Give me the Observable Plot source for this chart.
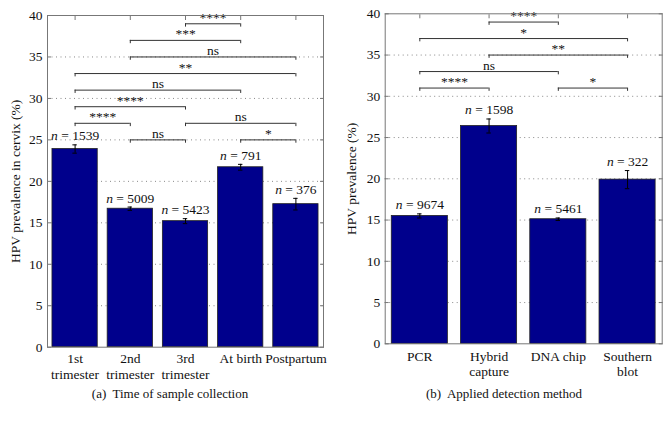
<!DOCTYPE html>
<html><head><meta charset="utf-8">
<script src="https://cdn.jsdelivr.net/npm/d3@7"></script>
<script src="https://cdn.jsdelivr.net/npm/@observablehq/plot@0.6"></script>
<style>
body{margin:0;background:#fff;font-family:"Liberation Serif",serif;}
#wrap{position:relative;width:669px;height:422px;overflow:hidden;background:#fff}
#pa{position:absolute;left:0;top:0}
#pb{position:absolute;left:334px;top:0}
.cap{position:absolute;top:386px;width:340px;text-align:center;font-size:13px;white-space:pre;line-height:15px;color:#111}
</style></head><body>
<div id="wrap"><div id="pa"></div><div id="pb"></div>
<div class="cap" style="left:0">(a)  Time of sample collection</div>
<div class="cap" style="left:334px">(b)  Applied detection method</div></div>
<script>
// Panel (a): time of sample collection
const timeCategories = ["1st\ntrimester", "2nd\ntrimester", "3rd\ntrimester", "At birth", "Postpartum"];
const timePrevalence = [23.9, 16.7, 15.2, 21.7, 17.25];
const timeError = [0.5, 0.2, 0.3, 0.35, 0.7];
const timeN = [1539, 5009, 5423, 791, 376];
const timeBracketFrom = [0, 1, 0, 2, 3, 0, 0, 1, 1, 2];
const timeBracketTo = [1, 2, 2, 4, 4, 3, 4, 4, 3, 3];
const timeBracketLevel = [27, 25, 29, 27, 25, 31, 33, 35, 37, 39];
const timeBracketLabel = ["****", "ns", "****", "ns", "*", "ns", "**", "ns", "***", "****"];

// Panel (b): applied detection method
const methodCategories = ["PCR", "Hybrid\ncapture", "DNA chip", "Southern\nblot"];
const methodPrevalence = [15.5, 26.4, 15.1, 19.9];
const methodError = [0.25, 0.85, 0.15, 1.1];
const methodN = [9674, 1598, 5461, 322];
const methodBracketFrom = [0, 2, 0, 1, 0, 1];
const methodBracketTo = [1, 3, 2, 3, 3, 2];
const methodBracketLevel = [31, 31, 33, 35, 37, 39];
const methodBracketLabel = ["****", "*", "ns", "**", "*", "****"];

const yTicks = [0, 5, 10, 15, 20, 25, 30, 35, 40];
const gridTicks = [5, 10, 15, 20, 25, 30, 35];

function panel(o) {
  const bars = o.cats.map((c, i) => ({i, c, v: o.vals[i], e: o.errs[i], n: o.ns[i]}));
  const brs = o.from.map((f, k) => ({f, t: o.to[k], y: o.level[k], s: o.label[k]}));
  const ends = brs.flatMap(b => [{x: b.f, y: b.y}, {x: b.t, y: b.y}]);
  const idx = o.cats.map((_, i) => i);
  const gray = "#777";
  const svg = Plot.plot({
    width: o.width, height: o.height,
    marginLeft: o.ml, marginRight: o.mr, marginTop: o.mt, marginBottom: o.mb,
    style: {fontFamily: "'Liberation Serif', serif", fontSize: "13.5px", color: "#111", background: "transparent"},
    x: {type: "linear", domain: [-0.5, o.cats.length - 0.5]},
    y: {domain: [0, 40]},
    marks: [
      Plot.gridY(gridTicks, {stroke: "#888", strokeOpacity: 1, strokeDasharray: "1,3.5"}),
      Plot.axisY(yTicks, {anchor: "left", tickSize: 0, tickPadding: 5, label: null, fontSize: 13.5}),
      Plot.text([o.ylabel], {frameAnchor: "left", rotate: -90, dx: o.ldx, text: d => d, textAnchor: "middle", lineAnchor: "middle", fontSize: 13.5}),
      Plot.axisY(yTicks, {anchor: "left", tickSize: -4, tickFormat: () => "", label: null, stroke: gray}),
      Plot.axisY(yTicks, {anchor: "right", tickSize: -4, tickFormat: () => "", label: null, stroke: gray}),
      Plot.axisX(idx, {anchor: "top", tickSize: -4, tickFormat: () => "", label: null, stroke: gray}),
      Plot.axisX(idx, {anchor: "bottom", tickSize: 0, tickPadding: o.pad, tickFormat: i => o.cats[i], label: null, lineHeight: 1.15, fontSize: 13.5}),
      Plot.rectY(bars, {x1: d => d.i - o.half, x2: d => d.i + o.half, y1: 0, y2: "v", fill: "#00008c", stroke: "#222", strokeWidth: 0.8}),
      Plot.ruleX(bars, {x: "i", y1: d => d.v - d.e, y2: d => d.v + d.e, stroke: "#000"}),
      Plot.ruleY(bars, {x1: d => d.i - o.cap, x2: d => d.i + o.cap, y: d => d.v + d.e, stroke: "#000"}),
      Plot.ruleY(bars, {x1: d => d.i - o.cap, x2: d => d.i + o.cap, y: d => d.v - d.e, stroke: "#000"}),
      Plot.text(bars, {x: "i", y: d => d.v + d.e, text: d => `n = ${d.n}`, lineAnchor: "bottom", dy: -4.5, fontSize: 13.5}),
      Plot.ruleY(brs, {x1: "f", x2: "t", y: "y", stroke: "#333"}),
      Plot.ruleX(ends, {x: "x", y1: "y", y2: d => d.y - 0.4, stroke: "#333"}),
      Plot.text(brs, {x: d => (d.f + d.t) / 2, y: "y", text: "s", lineAnchor: "bottom", dy: -2, fontSize: 13.5}),
      Plot.frame({stroke: gray})
    ]
  });
  for (const t of svg.querySelectorAll("text")) {
    if (t.childElementCount === 0 && t.textContent.startsWith("n = ")) {
      const rest = t.textContent.slice(1);
      t.textContent = "";
      const ts = document.createElementNS("http://www.w3.org/2000/svg", "tspan");
      ts.setAttribute("font-style", "italic");
      ts.textContent = "n";
      t.append(ts, rest);
    }
  }
  return svg;
}

document.getElementById("pa").append(panel({
  cats: timeCategories, vals: timePrevalence, errs: timeError, ns: timeN,
  from: timeBracketFrom, to: timeBracketTo, level: timeBracketLevel, label: timeBracketLabel,
  ylabel: "HPV prevalence in cervix (%)", ldx: -32,
  width: 334, height: 390, ml: 47, mr: 11, mt: 15, mb: 43.3, half: 0.41, cap: 0.04, pad: 5
}));
document.getElementById("pb").append(panel({
  cats: methodCategories, vals: methodPrevalence, errs: methodError, ns: methodN,
  from: methodBracketFrom, to: methodBracketTo, level: methodBracketLevel, label: methodBracketLabel,
  ylabel: "HPV prevalence (%)", ldx: -33.5,
  width: 335, height: 390, ml: 50.7, mr: 7.3, mt: 13.3, mb: 46.7, half: 0.405, cap: 0.032, pad: 6
}));
</script>
</body></html>
